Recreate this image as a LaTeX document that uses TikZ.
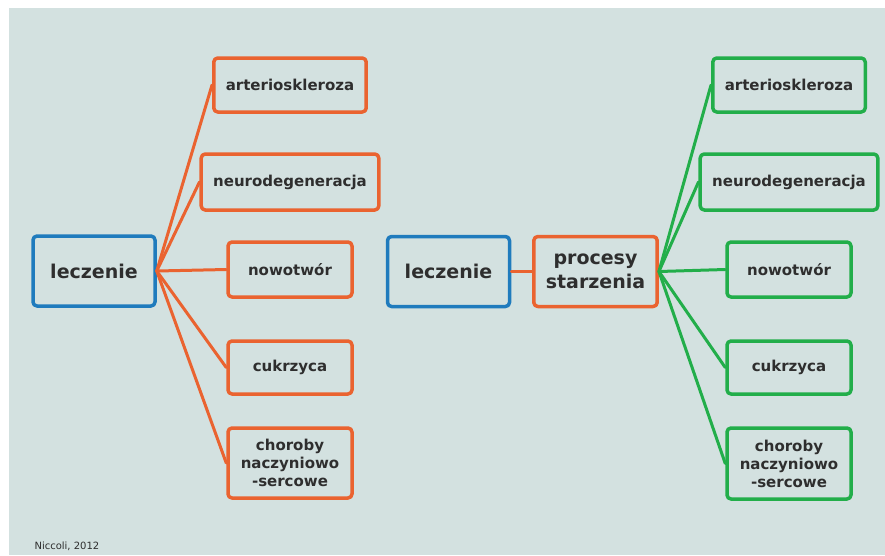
\documentclass[tikz,border=0pt]{standalone}
\usepackage{fontspec}
\setmainfont{DejaVu Sans}
\definecolor{tlo}{HTML}{D3E1E0}
\definecolor{nieb}{HTML}{1F7BBD}
\definecolor{pom}{HTML}{EA6330}
\definecolor{ziel}{HTML}{22AE4A}
\definecolor{tekst}{HTML}{2E2E2E}
\begin{document}
\begin{tikzpicture}[x=1pt, y=-1pt, line join=round, line cap=round,
	ramka/.style={draw, line width=3.5pt, rounded corners=4pt, align=center, text=tekst,
		font=\fontsize{15}{18}\selectfont\bfseries, inner xsep=12pt, inner ysep=2pt,
		minimum width=124pt, minimum height=54pt},
	duza/.style={ramka, font=\fontsize{19}{24}\selectfont\bfseries, minimum width=122pt, minimum height=70pt},
	lin/.style={line width=3pt}]
	\def\xl{290} \def\xp{789} % kolumny
	\useasboundingbox (0,0) rectangle (885,555);
	\fill[tlo] (9,8) rectangle (885,555);
	% lewa strona
	\node[duza, draw=nieb] (lecz1) at (94,271) {leczenie};
	\foreach \i/\y/\h/\t in {1/85/54/arterioskleroza, 2/182/56/neurodegeneracja, 3/269.5/55/nowotwór, 4/367.5/53/cukrzyca, 5/463/70/{choroby\\naczyniowo\\-sercowe}}{
		\node[ramka, draw=pom, minimum height=\h pt] (L\i) at (\xl,\y) {\t};
		\draw[lin, pom] (lecz1.east) -- (L\i.west);
	}
	% prawa strona
	\node[duza, draw=nieb] (lecz2) at (448.5,271.5) {leczenie};
	\node[duza, draw=pom, minimum width=123pt] (proc) at (595.5,271.5) {procesy\\starzenia};
	\draw[lin, pom] (lecz2.east) -- (proc.west);
	\foreach \i/\y/\h/\t in {1/85/54/arterioskleroza, 2/182/56/neurodegeneracja, 3/269.5/55/nowotwór, 4/367.5/53/cukrzyca, 5/463.5/71/{choroby\\naczyniowo\\-sercowe}}{
		\node[ramka, draw=ziel, minimum height=\h pt] (P\i) at (\xp,\y) {\t};
		\draw[lin, ziel] (proc.east) -- (P\i.west);
	}
	\node[anchor=west, font=\fontsize{10}{12}\selectfont, text=tekst] (zrodlo) at (31,546) {Niccoli, 2012};
\end{tikzpicture}
\end{document}
